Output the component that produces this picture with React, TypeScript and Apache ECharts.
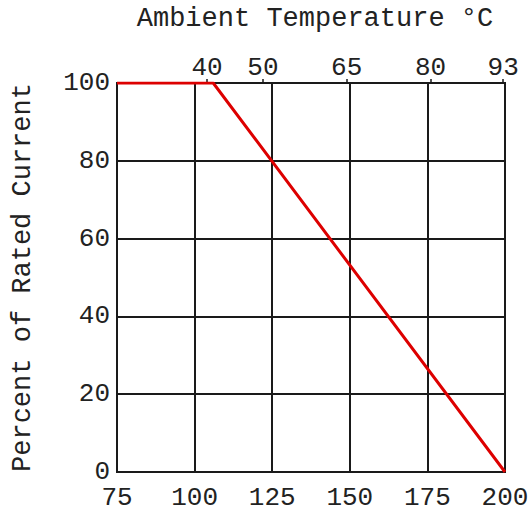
import React, { useEffect, useRef } from "react";
import * as echarts from "echarts";

const tempF = [75, 106, 200];
const percentRated = [100, 100, 0];
const bottomMinF = 75;
const bottomMaxF = 200;
const bottomStepF = 25;
const topTicksC = [40, 50, 65, 80, 93];
const yMin = 0;
const yMax = 100;
const yStep = 20;
const topAxisTitle = "Ambient Temperature °C";
const leftAxisTitle = "Percent of Rated Current";

const FONT = "'Liberation Mono', 'Courier New', monospace";
const INK = "#1a1a1a";

export default function App() {
  const ref = useRef<HTMLDivElement>(null);
  useEffect(() => {
    if (!ref.current) return;
    const chart = echarts.init(ref.current, undefined, { renderer: "svg" });
    const fToC = (f: number) => (f - 32) / 1.8;
    chart.setOption({
      animation: false,
      backgroundColor: "#ffffff",
      textStyle: { fontFamily: FONT },
      grid: {
        left: 117,
        right: 24,
        top: 83,
        bottom: 40,
        containLabel: false,
        outerBoundsMode: "none",
        show: true,
        borderColor: INK,
        borderWidth: 2,
        backgroundColor: "transparent",
      },
      xAxis: [
        {
          type: "value",
          position: "bottom",
          min: bottomMinF,
          max: bottomMaxF,
          interval: bottomStepF,
          axisLine: { show: true, lineStyle: { color: INK, width: 2 } },
          axisTick: { show: false },
          splitLine: { show: true, lineStyle: { color: INK, width: 2 } },
          axisLabel: {
            color: "#222",
            fontSize: 26,
            fontFamily: FONT,
            margin: 14.5,
            lineHeight: 22,
          },
        },
        {
          type: "value",
          position: "top",
          min: fToC(bottomMinF),
          max: fToC(bottomMaxF),
          axisLine: { show: true, lineStyle: { color: INK, width: 2 } },
          axisTick: {
            show: true,
            inside: false,
            length: 4,
            customValues: topTicksC,
            lineStyle: { color: INK, width: 1.5 },
          },
          splitLine: { show: false },
          axisLabel: {
            color: "#222",
            fontSize: 26,
            fontFamily: FONT,
            margin: 2,
            customValues: topTicksC,
            formatter: (v: number) => String(v),
          },
          name: topAxisTitle,
          nameLocation: "middle",
          nameGap: 51,
          nameTextStyle: {
            color: "#222",
            fontSize: 27,
            fontFamily: FONT,
            padding: [0, 0, 0, 8],
          },
        },
      ],
      yAxis: [
        {
          type: "value",
          min: yMin,
          max: yMax,
          interval: yStep,
          axisLine: { show: true, lineStyle: { color: INK, width: 2 } },
          axisTick: { show: false },
          splitLine: { show: true, lineStyle: { color: INK, width: 2 } },
          axisLabel: {
            color: "#222",
            fontSize: 26,
            fontFamily: FONT,
            margin: 7,
            lineHeight: 20,
          },
          name: leftAxisTitle,
          nameLocation: "middle",
          nameGap: 81,
          nameRotate: 90,
          nameTextStyle: { color: "#222", fontSize: 27, fontFamily: FONT },
        },
      ],
      series: [
        {
          type: "line",
          xAxisIndex: 0,
          yAxisIndex: 0,
          data: tempF.map((t, i) => [t, percentRated[i]]),
          symbol: "none",
          lineStyle: { color: "#dd0000", width: 3 },
          z: 10,
        },
      ],
    });
    return () => chart.dispose();
  }, []);
  return (
    <div
      ref={ref}
      style={{ position: "absolute", left: 0, top: 0, width: 529, height: 512 }}
    />
  );
}
